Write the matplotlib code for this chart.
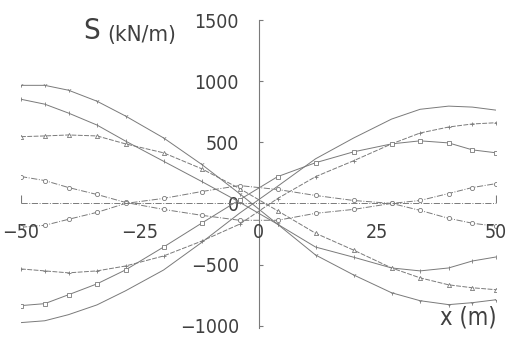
import matplotlib
matplotlib.use("Agg")
import matplotlib.pyplot as plt

# ===============================
# Data
# ===============================
x = [-50, -45, -40, -34, -28, -20, -12, -4, 4, 12, 20, 28, 34, 40, 45, 50]

s_tri_down = [966, 966, 926, 836, 715, 536, 320, 80, -170, -422, -585, -731, -796, -828, -812, -788]
s_smooth = [-975, -960, -910, -830, -715, -545, -320, -80, 140, 365, 535, 690, 770, 796, 788, 763]
s_bar = [852, 812, 739, 641, 510, 345, 180, 10, -170, -357, -440, -528, -552, -528, -471, -438]
s_plus = [-536, -552, -568, -552, -512, -430, -309, -170, 40, 219, 349, 487, 576, 625, 650, 660]
s_triangle = [546, 552, 560, 552, 487, 414, 284, 122, -60, -244, -382, -528, -609, -666, -690, -706]
s_square = [-836, -820, -747, -658, -544, -357, -162, 30, 219, 333, 422, 487, 512, 495, 438, 414]
s_circle_a = [220, 187, 130, 73, 8, -49, -97, -138, -138, -81, -49, 0, 24, 81, 130, 162]
s_circle_b = [-195, -179, -130, -73, 0, 41, 97, 146, 114, 65, 24, 0, -57, -122, -162, -187]
s_zero = [0, 0]
x_zero = [-50, 50]
x_ticks = [-50, -25, 0, 25, 50]
y_ticks = [-1000, -500, 0, 500, 1000, 1500]

LINE = "#7a7a7a"
TEXT = "#404040"

plt.rcParams['font.family'] = ['DejaVu Sans']
plt.rcParams['font.stretch'] = 'condensed'

fig = plt.figure(figsize=(5.12, 3.4), dpi=100)
ax = fig.add_axes([0.041, 0.035, 0.928, 0.906])

common = dict(color=LINE, linewidth=0.7, markersize=3, markerfacecolor="white",
              markeredgecolor=LINE, markeredgewidth=0.6)

ax.plot(x, s_tri_down, marker="1", linestyle="-", **common)
ax.plot(x, s_smooth, linestyle="-", color=LINE, linewidth=0.7)
ax.plot(x, s_bar, marker="$\\mathrm{I}$", linestyle="-", **common)
ax.plot(x, s_plus, marker="+", linestyle=(0, (5, 1.5)), **common)
ax.plot(x, s_triangle, marker="^", linestyle=(0, (5, 1.5)), **common)
ax.plot(x, s_square, marker="s", linestyle="-", **common)
ax.plot(x, s_circle_a, marker="o", linestyle="-.", **common)
ax.plot(x, s_circle_b, marker="o", linestyle="-.", **common)
ax.plot(x_zero, s_zero, marker=2, linestyle="-.", color=LINE, linewidth=0.7,
        markersize=6, markeredgewidth=0.8)

ax.set_xlim(-50, 50)
ax.set_ylim(-1020, 1500)

for side in ("top", "right", "bottom"):
    ax.spines[side].set_visible(False)
ax.spines["left"].set_position(("data", 0))
ax.spines["left"].set_color(LINE)
ax.spines["left"].set_linewidth(0.8)

ax.set_xticks([])
ax.set_yticks(y_ticks)
ax.tick_params(axis="y", direction="in", length=3, color=LINE, pad=14,
               labelsize=14, labelcolor=TEXT)
ax.set_yticklabels([str(v).replace("-", "\u2212") for v in y_ticks])

# x tick labels sit just under the zero line
for v in x_ticks:
    ax.text(v, -160, str(v).replace("-", "\u2212"), ha="center", va="top",
            fontsize=14, color=TEXT)

fig.text(0.178, 0.91, "S", fontsize=21, color=TEXT, ha="center", va="center")
fig.text(0.277, 0.897, "(kN/m)", fontsize=16, color=TEXT, ha="center", va="center")
fig.text(0.915, 0.065, "x (m)", fontsize=17, color=TEXT, ha="center", va="center")

fig.savefig("out.png", dpi=100)
